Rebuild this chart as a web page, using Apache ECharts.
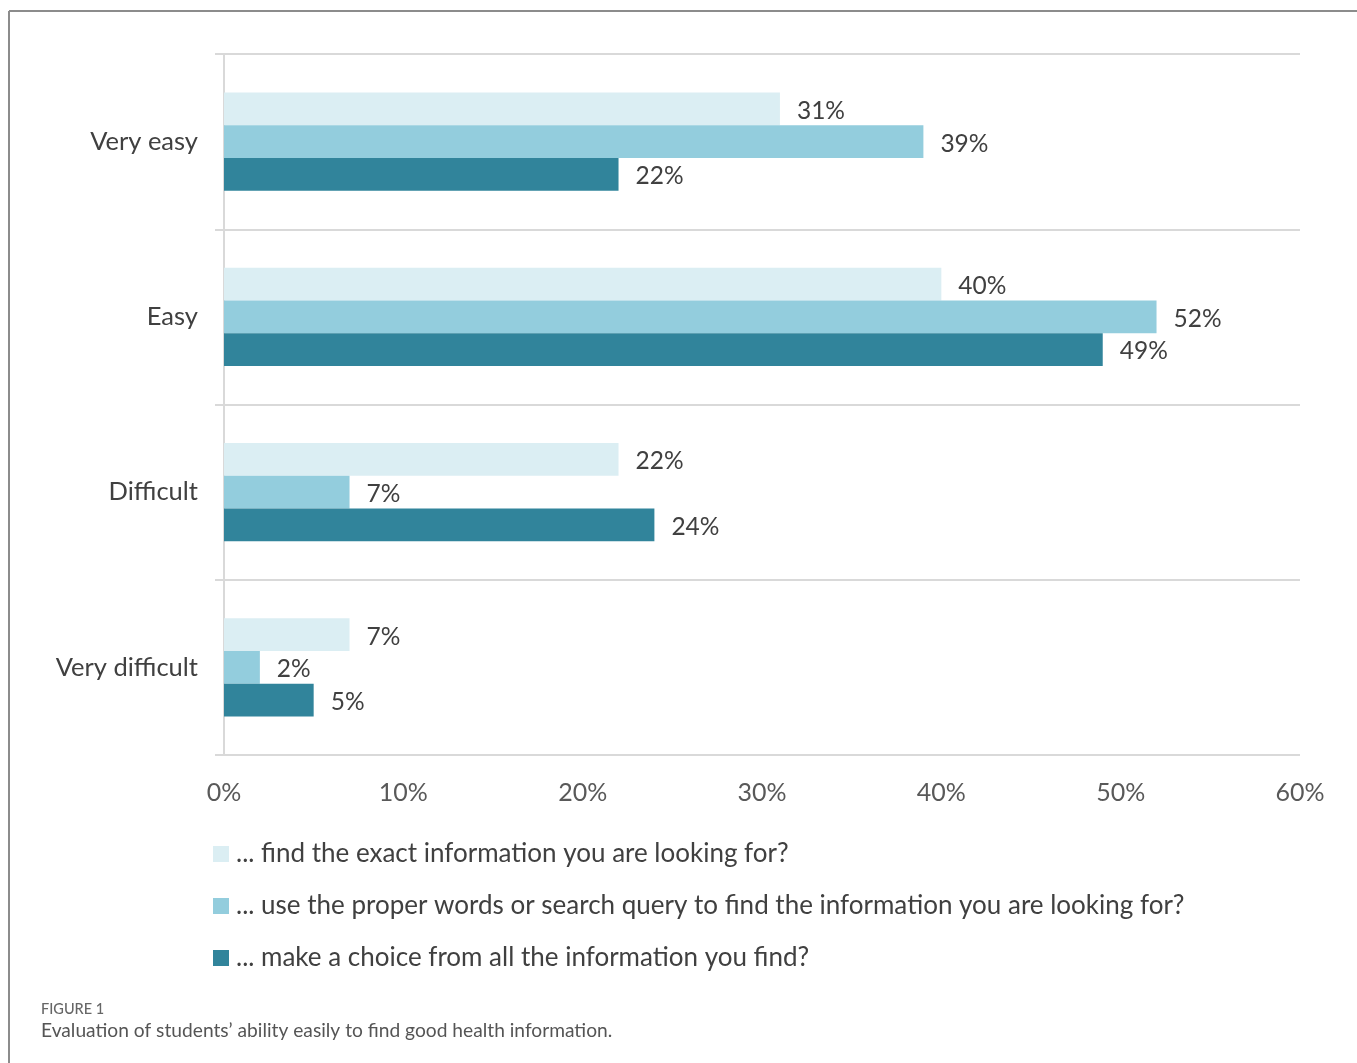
<!DOCTYPE html>
<html>
<head>
<meta charset="utf-8">
<script src="https://cdn.jsdelivr.net/npm/echarts@6/dist/echarts.min.js"></script>
<style>
  html, body { margin: 0; padding: 0; background: #ffffff; }
  #chart { width: 1357px; height: 1063px; }
</style>
</head>
<body>
<div id="chart"></div>
<script>
// Answer categories, top to bottom
const categories = ['Very easy', 'Easy', 'Difficult', 'Very difficult'];

// Share of students (%) per question
const seriesNames = [
  '... find the exact information you are looking for?',
  '... use the proper words or search query to find the information you are looking for?',
  '... make a choice from all the information you find?'
];
const findExact = [31, 40, 22, 7];
const properWords = [39, 52, 7, 2];
const makeChoice = [22, 49, 24, 5];

const xTicks = [0, 10, 20, 30, 40, 50, 60];

const colors = ['#dbeef3', '#93cddd', '#31849b'];
const FONT = 'Lato, "Open Sans", sans-serif';

const chart = echarts.init(document.getElementById('chart'));

function barSeries(name, data, color) {
  return {
    name: name,
    type: 'bar',
    data: data,
    barGap: '0%',
    barCategoryGap: '44%',
    itemStyle: { color: color },
    label: {
      show: true,
      position: 'right',
      distance: 17,
      offset: [0, 2],
      formatter: '{c}%',
      color: '#404040',
      fontSize: 24.5,
      fontFamily: FONT
    },
    emphasis: { disabled: true },
    animation: false
  };
}

chart.setOption({
  animation: false,
  grid: { left: 224, right: 57, top: 54, bottom: 308, containLabel: false },
  xAxis: {
    type: 'value',
    min: xTicks[0],
    max: xTicks[xTicks.length - 1],
    interval: 10,
    axisLine: { show: false },
    axisTick: { show: false },
    splitLine: { show: false },
    axisLabel: {
      formatter: '{value}%',
      color: '#595959',
      fontSize: 25,
      fontFamily: FONT,
      margin: 25
    }
  },
  yAxis: {
    type: 'category',
    data: categories,
    inverse: true,
    axisLine: { show: true, lineStyle: { color: '#d9d9d9', width: 2 } },
    axisTick: { show: true, length: 9, alignWithLabel: false, lineStyle: { color: '#d9d9d9', width: 2 } },
    splitLine: { show: true, lineStyle: { color: '#d9d9d9', width: 2 } },
    axisLabel: {
      color: '#404040',
      fontSize: 25.5,
      fontFamily: FONT,
      margin: 26
    }
  },
  legend: {
    orient: 'vertical',
    left: 208,
    top: 834,
    icon: 'rect',
    itemWidth: 16,
    itemHeight: 16,
    itemGap: 22,
    selectedMode: false,
    textStyle: { color: '#404040', fontSize: 26, fontFamily: FONT, lineHeight: 30, padding: [0, 0, 0, 2] },
    data: seriesNames
  },
  series: [
    barSeries(seriesNames[0], findExact, colors[0]),
    barSeries(seriesNames[1], properWords, colors[1]),
    barSeries(seriesNames[2], makeChoice, colors[2])
  ],
  graphic: [
    // figure frame
    { type: 'line', shape: { x1: 9, y1: 11, x2: 1357, y2: 11 }, style: { stroke: '#8c8c8c', lineWidth: 2 } },
    { type: 'line', shape: { x1: 9, y1: 11, x2: 9, y2: 1063 }, style: { stroke: '#8c8c8c', lineWidth: 2 } },
    // caption
    { type: 'text', left: 41, top: 1002, style: { text: 'FIGURE 1', fill: '#666666', font: '500 14.5px ' + FONT } },
    { type: 'text', left: 41, top: 1021, style: { text: 'Evaluation of students\u2019 ability easily to find good health information.', fill: '#555555', font: '19.2px ' + FONT } }
  ]
});
</script>
</body>
</html>
